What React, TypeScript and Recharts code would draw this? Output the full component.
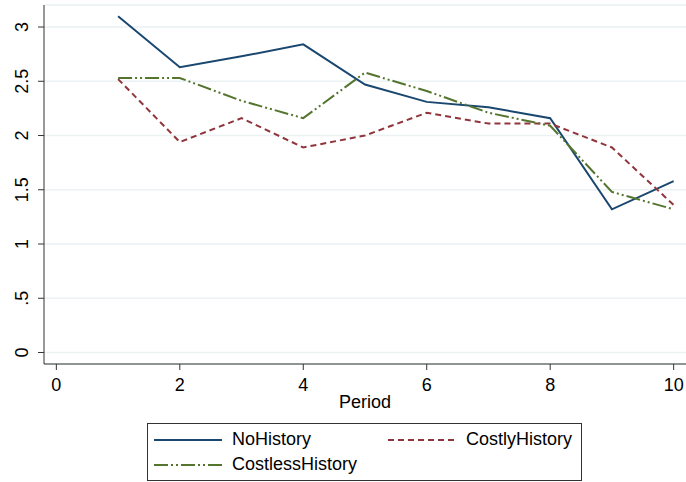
import React from "react";
import { LineChart, Line, XAxis, YAxis, CartesianGrid } from "recharts";

const periods = [1, 2, 3, 4, 5, 6, 7, 8, 9, 10];
const noHistory = [3.1, 2.63, 2.73, 2.84, 2.47, 2.31, 2.26, 2.16, 1.32, 1.58];
const costlyHistory = [2.52, 1.94, 2.16, 1.89, 2.0, 2.21, 2.11, 2.11, 1.89, 1.36];
const costlessHistory = [2.53, 2.53, 2.32, 2.16, 2.58, 2.41, 2.21, 2.09, 1.48, 1.32];
const xTicks = [0, 2, 4, 6, 8, 10];
const yTicks = [0, 0.5, 1, 1.5, 2, 2.5, 3];

const data = periods.map((p, i) => ({
  period: p,
  NoHistory: noHistory[i],
  CostlyHistory: costlyHistory[i],
  CostlessHistory: costlessHistory[i],
}));

const FONT = "'Liberation Sans', Arial, sans-serif";
const NAVY = "#1a476f";
const MAROON = "#90353b";
const GREEN = "#55752f";
const COSTLY_DASH = "6 4";
const COSTLESS_DASH = "14 3 2 3 2 3";

const fmtY = (v: number) => (v === 0.5 ? ".5" : String(v));

// rotated y tick labels, like Stata's default
function YTick(props: any) {
  const { x, y, payload } = props;
  const tx = x - 8;
  return (
    <text
      x={tx}
      y={y}
      transform={`rotate(-90 ${tx} ${y})`}
      textAnchor="middle"
      fontSize={18}
      fontFamily={FONT}
      fill="#000"
    >
      {fmtY(payload.value)}
    </text>
  );
}

function LegendItem({ color, dash, label }: { color: string; dash?: string; label: string }) {
  return (
    <div style={{ display: "flex", alignItems: "center", height: 25 }}>
      <svg width={68} height={10} style={{ marginRight: 10, flexShrink: 0 }}>
        <line x1={0} y1={5} x2={68} y2={5} stroke={color} strokeWidth={2} strokeDasharray={dash} />
      </svg>
      <span style={{ fontSize: 18, fontFamily: FONT, color: "#000", whiteSpace: "nowrap" }}>{label}</span>
    </div>
  );
}

export default function App() {
  return (
    <div style={{ position: "absolute", left: 0, top: 0, width: 686, height: 482, background: "#fff" }}>
      <LineChart width={686} height={482} data={data} margin={{ top: 5, right: 0, left: 0, bottom: 74 }}>
        <CartesianGrid horizontal vertical={false} stroke="#eaf2f3" strokeWidth={1.5} />
        <XAxis
          dataKey="period"
          type="number"
          domain={[-0.2, 10.2]}
          ticks={xTicks}
          allowDataOverflow
          height={44}
          tickSize={6}
          tickMargin={8}
          axisLine={{ stroke: "#333" }}
          tickLine={{ stroke: "#333" }}
          tick={{ fontSize: 18, fontFamily: FONT, fill: "#000" }}
          label={{ value: "Period", position: "insideBottom", offset: 0, fontSize: 18, fontFamily: FONT, fill: "#000" }}
        />
        <YAxis
          type="number"
          domain={[-0.106, 3.203]}
          ticks={yTicks}
          allowDataOverflow
          width={44}
          tickSize={6}
          tickMargin={2}
          axisLine={{ stroke: "#333" }}
          tickLine={{ stroke: "#333" }}
          tick={<YTick />}
        />
        <Line dataKey="NoHistory" stroke={NAVY} strokeWidth={2} dot={false} isAnimationActive={false} />
        <Line dataKey="CostlyHistory" stroke={MAROON} strokeWidth={2} strokeDasharray={COSTLY_DASH} dot={false} isAnimationActive={false} />
        <Line dataKey="CostlessHistory" stroke={GREEN} strokeWidth={2} strokeDasharray={COSTLESS_DASH} dot={false} isAnimationActive={false} />
      </LineChart>
      <div
        style={{
          position: "absolute",
          left: 147,
          top: 423,
          width: 435,
          height: 58,
          boxSizing: "border-box",
          border: "1px solid #333",
          padding: "3px 6px",
          display: "grid",
          gridTemplateColumns: "234px 1fr",
        }}
      >
        <LegendItem color={NAVY} label="NoHistory" />
        <LegendItem color={MAROON} dash={COSTLY_DASH} label="CostlyHistory" />
        <LegendItem color={GREEN} dash={COSTLESS_DASH} label="CostlessHistory" />
      </div>
    </div>
  );
}
